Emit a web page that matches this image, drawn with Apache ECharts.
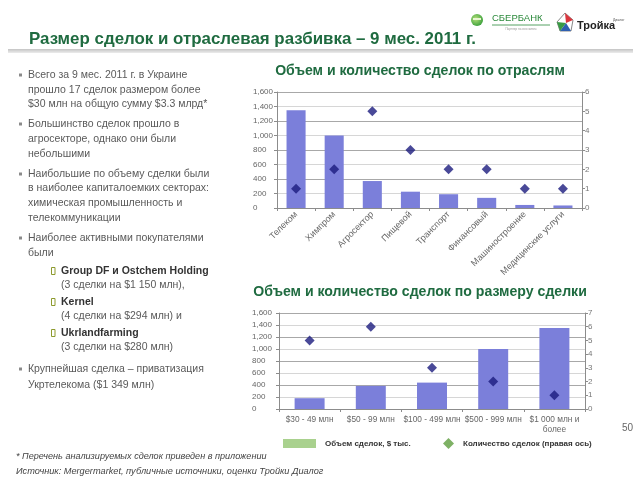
<!DOCTYPE html>
<html>
<head>
<meta charset="utf-8">
<script src="https://cdn.jsdelivr.net/npm/echarts@6/dist/echarts.min.js"></script>
<style>
html,body{margin:0;padding:0;background:#fff;}
#c{width:640px;height:480px;}
</style>
</head>
<body>
<div id="c"></div>
<script>
// ---- Data ----
var sectorCategories = ['Телеком','Химпром','Агросектор','Пищевой','Транспорт','Финансовый','Машиностроение','Медицинские услуги'];
var sectorVolume = [1349, 1000, 372, 225, 190, 140, 42, 35];
var sectorCount = [1, 2, 5, 3, 2, 2, 1, 1];

var sizeCategories = ['$30 - 49 млн','$50 - 99 млн','$100 - 499 млн','$500 - 999 млн','$1 000 млн и\nболее'];
var sizeVolume = [180, 385, 440, 1000, 1349];
var sizeCount = [5, 6, 3, 2, 1];

var leftTicks = {min: 0, max: 1600, interval: 200};
var rightTicks1 = {min: 0, max: 6, interval: 1};
var rightTicks2 = {min: 0, max: 7, interval: 1};

var volumeName = 'Объем сделок, $ тыс.';
var countName = 'Количество сделок (правая ось)';

// ---- Styles ----
var FONT = '"Liberation Sans", Arial, sans-serif';
var BAR = '#7b7fda';
var DOT = '#1c1c7e';
var GREEN_TITLE = '#1f6b40';
var TXT = '#5a5a5a';
var AX = '#8c8c8c';

function yLeft(grid, margin){
  return {type:'value', gridIndex:grid, position:'left', min:leftTicks.min, max:leftTicks.max, interval:leftTicks.interval,
    axisLine:{show:true, lineStyle:{color:AX}}, axisTick:{show:true, length:3, lineStyle:{color:AX}},
    axisLabel:{align:'left', margin:margin, color:'#666', fontSize:8, fontFamily:FONT,
      formatter:function(v){return v>=1000 ? (Math.floor(v/1000)+','+String(v%1000).padStart(3,'0')) : String(v);}},
    splitLine:{show:true, lineStyle:{color:['#a8a8a8','#d6d6d6'], width:1}}};
}
function yRight(grid, t){
  return {type:'value', gridIndex:grid, position:'right', min:t.min, max:t.max, interval:t.interval,
    axisLine:{show:true, lineStyle:{color:AX}}, axisTick:{show:true, length:3, lineStyle:{color:AX}},
    axisLabel:{margin:3, color:'#777', fontSize:8, fontFamily:FONT}, splitLine:{show:false}};
}

// ---- Graphics (slide text) ----
var g = [];
function txt(x, y, s, opt){
  opt = opt || {};
  g.push({type:'text', x:x, y:y, silent:true, style:{text:s, x:0, y:0, fill:opt.color||TXT,
    font:(opt.italic?'italic ':'')+(opt.bold?'bold ':'')+(opt.size||10)+'px '+FONT, textVerticalAlign:'middle', textAlign:opt.align||'left'}});
}
// Title + rule
g.push({type:'rect', shape:{x:8,y:49,width:625,height:4}, silent:true,
  style:{fill:new echarts.graphic.LinearGradient(0,0,0,1,[{offset:0,color:'#c4c4c4'},{offset:1,color:'#ececec'}])}});
txt(29, 39, 'Размер сделок и отраслевая разбивка – 9 мес. 2011 г.', {bold:true, size:16.9, color:GREEN_TITLE});
// Logos
g.push({type:'circle', shape:{cx:477,cy:20,r:6}, silent:true,
  style:{fill:new echarts.graphic.RadialGradient(0.4,0.4,0.7,[{offset:0,color:'#b6e07a'},{offset:1,color:'#2f9a36'}])}});
g.push({type:'rect', shape:{x:473,y:18,width:8,height:2}, silent:true, style:{fill:'#e8f5d0'}});
txt(492, 18.5, 'СБЕРБАНК', {size:9.5, color:'#2c8a3c'});
g.push({type:'line', shape:{x1:492,y1:25,x2:550,y2:25}, silent:true, style:{stroke:'#2c8a3c', lineWidth:0.8}});
txt(521, 29, 'Партнер на всю жизнь', {size:3, color:'#999', align:'center'});
g.push({type:'polygon', shape:{points:[[557,22],[565,13],[573,20],[571,31],[560,31]]}, silent:true, style:{fill:'none', stroke:'#888', lineWidth:1}});
g.push({type:'polygon', shape:{points:[[565,13],[573,20],[566,23]]}, silent:true, style:{fill:'#d9363e'}});
g.push({type:'polygon', shape:{points:[[560,31],[566,23],[571,31]]}, silent:true, style:{fill:'#2f5fb0'}});
g.push({type:'polygon', shape:{points:[[557,22],[566,23],[560,31]]}, silent:true, style:{fill:'#3a9a46'}});
txt(577, 26, 'Тройка', {bold:true, size:11, color:'#222'});
txt(613, 20, 'Диалог', {size:3.5, color:'#555'});

// Left text
var lines = [
  {b:1, y:75, t:'Всего за 9 мес. 2011 г. в Украине'},
  {y:90, t:'прошло 17 сделок размером более'},
  {y:104.5, t:'$30 млн на общую сумму $3.3 млрд*'},
  {b:1, y:124, t:'Большинство сделок прошло в'},
  {y:139, t:'агросекторе, однако они были'},
  {y:154, t:'небольшими'},
  {b:1, y:174, t:'Наибольшие по объему сделки были'},
  {y:188.5, t:'в наиболее капиталоемких секторах:'},
  {y:203, t:'химическая промышленность и'},
  {y:218, t:'телекоммуникации'},
  {b:1, y:238, t:'Наиболее активными покупателями'},
  {y:253, t:'были'},
  {s:1, y:271, t:'Group DF и Ostchem Holding', bold:true},
  {y:285, x:61, t:'(3 сделки на $1 150 млн),'},
  {s:1, y:302, t:'Kernel', bold:true},
  {y:316.5, x:61, t:'(4 сделки на $294 млн) и'},
  {s:1, y:333, t:'Ukrlandfarming', bold:true},
  {y:347.5, x:61, t:'(3 сделки на $280 млн)'},
  {b:1, y:369, t:'Крупнейшая сделка – приватизация'},
  {y:385, t:'Укртелекома ($1 349 млн)'}
];
lines.forEach(function(l){
  var x = l.x || (l.s ? 61 : 28);
  if (l.b) g.push({type:'rect', shape:{x:19,y:l.y-1.5,width:3,height:3}, silent:true, style:{fill:'#8a8a8a'}});
  if (l.s) g.push({type:'rect', shape:{x:51.5,y:l.y-3.5,width:3.5,height:7}, silent:true, style:{fill:'none', stroke:'#8d9a2e', lineWidth:1}});
  txt(x, l.y, l.t, {bold:!!l.bold, size:10.5, color: l.bold ? '#333' : TXT});
});
// Footnotes
txt(16, 456, '* Перечень анализируемых сделок приведен в приложении', {italic:true, size:9.1, color:'#444'});
txt(16, 471, 'Источник: Mergermarket, публичные источники, оценки Тройки Диалог', {italic:true, size:9.2, color:'#444'});
txt(622, 428, '50', {size:10, color:'#666'});
// Chart titles
txt(420, 71, 'Объем и количество сделок по отраслям', {bold:true, size:14.1, color:GREEN_TITLE, align:'center'});
txt(420, 292, 'Объем и количество сделок по размеру сделки', {bold:true, size:14.1, color:GREEN_TITLE, align:'center'});

var option = {
  animation:false,
  backgroundColor:'#fff',
  textStyle:{fontFamily:FONT},
  grid:[
    {left:277, right:58, top:92, height:116},
    {left:279, right:55, top:313, height:96}
  ],
  xAxis:[
    {type:'category', gridIndex:0, data:sectorCategories,
      axisLine:{lineStyle:{color:AX}}, axisTick:{show:true, length:3, interval:0, lineStyle:{color:AX}},
      axisLabel:{interval:0, rotate:45, margin:5, fontSize:9, color:'#666', fontFamily:FONT}},
    {type:'category', gridIndex:1, data:sizeCategories,
      axisLine:{lineStyle:{color:AX}}, axisTick:{show:true, length:3, interval:0, lineStyle:{color:AX}},
      axisLabel:{interval:0, margin:6, fontSize:8.3, lineHeight:10, color:'#666', fontFamily:FONT}}
  ],
  yAxis:[ yLeft(0, 24), yRight(0, rightTicks1), yLeft(1, 27), yRight(1, rightTicks2) ],
  legend:[
    {left:283, top:439, padding:0, itemWidth:33, itemHeight:9, itemGap:0, selectedMode:false,
      textStyle:{fontSize:8, fontWeight:'bold', color:'#333', padding:[0,0,0,4], fontFamily:FONT},
      data:[{name:volumeName, icon:'rect', itemStyle:{color:'#a9d18e'}}]},
    {left:443, top:438, padding:0, itemWidth:11, itemHeight:11, itemGap:0, selectedMode:false,
      textStyle:{fontSize:8, fontWeight:'bold', color:'#333', padding:[0,0,0,4], fontFamily:FONT},
      data:[{name:countName, icon:'diamond', itemStyle:{color:'#5e9e3e'}}]}
  ],
  series:[
    {name:volumeName, type:'bar', xAxisIndex:0, yAxisIndex:0, data:sectorVolume, barWidth:'50%', itemStyle:{color:BAR}},
    {name:countName, type:'scatter', xAxisIndex:0, yAxisIndex:1, data:sectorCount, symbol:'diamond', symbolSize:10, itemStyle:{color:DOT}},
    {name:volumeName, type:'bar', xAxisIndex:1, yAxisIndex:2, data:sizeVolume, barWidth:'49%', itemStyle:{color:BAR}},
    {name:countName, type:'scatter', xAxisIndex:1, yAxisIndex:3, data:sizeCount, symbol:'diamond', symbolSize:10, itemStyle:{color:DOT}}
  ],
  graphic:g
};
var chart = echarts.init(document.getElementById('c'), null, {renderer:'canvas'});
chart.setOption(option);
</script>
</body>
</html>
